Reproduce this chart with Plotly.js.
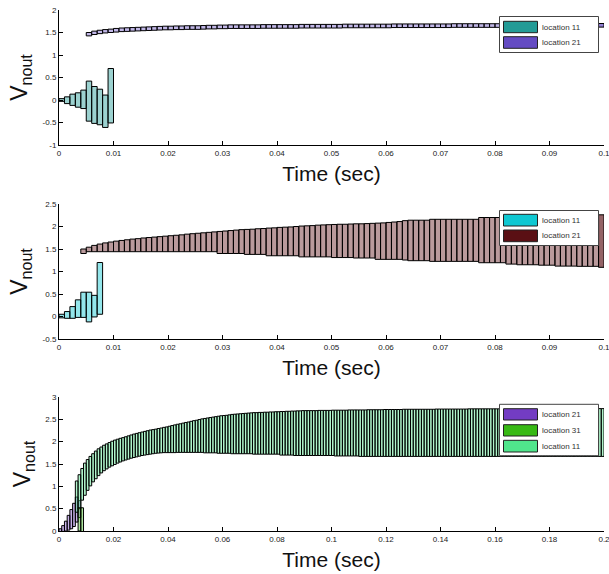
<!DOCTYPE html>
<html><head><meta charset="utf-8">
<script src="https://cdn.plot.ly/plotly-3.0.1.min.js"></script>
<style>html,body{margin:0;padding:0;background:#fff}#chart{width:609px;height:574px}</style>
</head><body><div id="chart"></div>
<script>
// ---------- data (time bins of 0.001 s, each bar spans lo..hi) ----------
const binStep = 0.001;

// Panel 1
const p1Names = ['location 11', 'location 21'];
const p1_11_start = 0.0005;
const p1_11_hi = [0.03,0.07,0.13,0.16,0.22,0.42,0.30,0.24,0.11,0.70];
const p1_11_lo = [-0.03,-0.08,-0.12,-0.16,-0.19,-0.47,-0.52,-0.55,-0.61,-0.51];
const p1_21_start = 0.0055;
const p1_21_hi = [
1.50,1.53,1.55,1.565,1.575,1.59,1.60,1.605,1.61,1.615,
1.62,1.625,1.63,1.635,1.64,1.64,1.645,1.645,1.65,1.65,
1.65,1.655,1.66,1.66,1.665,1.665,1.67,1.67,1.67,1.67,
1.67,1.67,1.675,1.675,1.675,1.675,1.675,1.675,1.675,1.68,
1.68,1.68,1.68,1.68,1.68,1.68,1.68,1.685,1.685,1.685,
1.685,1.685,1.685,1.685,1.685,1.685,1.69,1.69,1.69,1.69,
1.69,1.69,1.69,1.69,1.69,1.69,1.69,1.695,1.695,1.695,
1.695,1.695,1.695,1.695,1.695,1.695,1.695,1.695,1.695,1.695,
1.695,1.70,1.70,1.70,1.70,1.70,1.70,1.70,1.70,1.70,
1.70,1.70,1.70,1.70,1.70];
const p1_21_lo = [
1.425,1.455,1.475,1.49,1.50,1.51,1.52,1.525,1.53,1.535,
1.54,1.545,1.55,1.555,1.56,1.56,1.565,1.565,1.57,1.57,
1.57,1.575,1.58,1.58,1.585,1.585,1.59,1.59,1.59,1.59,
1.59,1.59,1.595,1.595,1.595,1.595,1.595,1.595,1.595,1.60,
1.60,1.60,1.60,1.60,1.60,1.60,1.60,1.605,1.605,1.605,
1.605,1.605,1.605,1.605,1.605,1.605,1.61,1.61,1.61,1.61,
1.61,1.61,1.61,1.61,1.61,1.61,1.61,1.615,1.615,1.615,
1.615,1.615,1.615,1.615,1.615,1.615,1.615,1.615,1.615,1.615,
1.615,1.62,1.62,1.62,1.62,1.62,1.62,1.62,1.62,1.62,
1.62,1.62,1.62,1.62,1.62];

// Panel 2
const p2Names = ['location 11', 'location 21'];
const p2_11_start = 0.0005;
const p2_11_hi = [0.05,0.11,0.22,0.37,0.54,0.54,0.47,1.20];
const p2_11_lo = [-0.03,-0.04,-0.04,-0.02,-0.02,-0.12,-0.01,0.05];
const p2_21_start = 0.0045;
const p2_21_hi = [
1.50,1.54,1.58,1.61,1.635,1.655,1.675,1.69,1.705,1.72,
1.73,1.745,1.755,1.765,1.775,1.785,1.795,1.805,1.815,1.83,
1.84,1.85,1.86,1.87,1.88,1.89,1.90,1.91,1.92,1.93,
1.935,1.94,1.95,1.955,1.965,1.97,1.98,1.985,1.99,2.00,
2.01,2.015,2.02,2.03,2.035,2.04,2.045,2.05,2.05,2.055,
2.06,2.06,2.065,2.07,2.075,2.08,2.09,2.10,2.11,2.13,
2.14,2.14,2.14,2.14,2.16,2.16,2.16,2.16,2.16,2.16,
2.16,2.16,2.16,2.20,2.20,2.20,2.20,2.20,2.20,2.20,
2.22,2.22,2.22,2.22,2.22,2.22,2.22,2.23,2.23,2.23,
2.23,2.24,2.24,2.24,2.24,2.26];
const p2_21_lo = [
1.40,1.44,1.44,1.44,1.44,1.44,1.44,1.44,1.44,1.44,
1.44,1.44,1.44,1.44,1.44,1.44,1.44,1.44,1.44,1.44,
1.44,1.44,1.44,1.44,1.44,1.40,1.40,1.40,1.40,1.40,
1.38,1.38,1.38,1.38,1.35,1.35,1.35,1.35,1.35,1.35,
1.325,1.325,1.325,1.325,1.325,1.325,1.31,1.31,1.31,1.31,
1.30,1.30,1.30,1.30,1.27,1.27,1.27,1.27,1.27,1.255,
1.24,1.24,1.24,1.24,1.225,1.225,1.225,1.225,1.225,1.225,
1.225,1.225,1.225,1.195,1.195,1.195,1.195,1.195,1.165,1.165,
1.15,1.15,1.15,1.15,1.14,1.14,1.14,1.12,1.12,1.12,
1.12,1.115,1.115,1.115,1.115,1.093];

// Panel 3
const p3Names = ['location 21', 'location 31', 'location 11'];
const p3_21_start = 0.0005;
const p3_21_hi = [0.05,0.12,0.22,0.35,0.48,0.62,0.76,0.68];
const p3_21_lo = [-0.01,-0.01,0.0,0.02,0.05,0.10,0.20,0.30];
const p3_31_start = 0.0075;
const p3_31_hi = [0.52,0.52];
const p3_31_lo = [0.0,-0.02];
const p3_11_start = 0.0065;
const p3_11_hi = [
1.12,1.26,1.40,1.52,1.60,1.67,1.73,1.79,1.84,1.88,
1.92,1.95,1.98,2.01,2.035,2.055,2.075,2.09,2.11,2.13,
2.15,2.17,2.185,2.20,2.215,2.23,2.245,2.26,2.27,2.28,
2.295,2.305,2.32,2.33,2.345,2.36,2.375,2.39,2.40,2.415,
2.43,2.44,2.455,2.47,2.48,2.495,2.51,2.52,2.53,2.54,
2.55,2.56,2.57,2.58,2.585,2.59,2.60,2.61,2.615,2.62,
2.625,2.63,2.635,2.64,2.645,2.65,2.65,2.655,2.655,2.66,
2.66,2.665,2.665,2.67,2.67,2.675,2.675,2.68,2.68,2.685,
2.685,2.69,2.69,2.695,2.695,2.695,2.695,2.695,2.695,2.70,
2.70,2.70,2.70,2.70,2.705,2.705,2.705,2.705,2.705,2.705,
2.71,2.71,2.71,2.71,2.71,2.71,2.71,2.715,2.715,2.715,
2.715,2.715,2.715,2.72,2.72,2.72,2.72,2.72,2.72,2.72,
2.725,2.725,2.725,2.725,2.725,2.725,2.725,2.725,2.725,2.725,
2.725,2.725,2.73,2.73,2.73,2.73,2.73,2.73,2.73,2.73,
2.73,2.73,2.73,2.73,2.735,2.735,2.735,2.735,2.735,2.735,
2.735,2.735,2.735,2.735,2.735,2.735,2.735,2.735,2.735,2.735,
2.735,2.735,2.735,2.735,2.735,2.735,2.735,2.735,2.735,2.74,
2.74,2.74,2.74,2.74,2.74,2.74,2.74,2.74,2.74,2.74,
2.74,2.74,2.74,2.74,2.74,2.74,2.74,2.74,2.74,2.74,
2.74,2.74,2.74,2.74];
const p3_11_lo = [
0.42,0.50,0.69,0.80,0.91,1.01,1.10,1.17,1.24,1.30,
1.35,1.39,1.43,1.46,1.49,1.52,1.545,1.57,1.59,1.61,
1.63,1.645,1.66,1.675,1.69,1.70,1.71,1.72,1.73,1.74,
1.745,1.75,1.755,1.755,1.755,1.755,1.755,1.76,1.76,1.76,
1.76,1.76,1.76,1.76,1.76,1.76,1.76,1.75,1.75,1.75,
1.75,1.75,1.74,1.74,1.74,1.74,1.74,1.73,1.73,1.73,
1.73,1.73,1.73,1.73,1.73,1.72,1.72,1.72,1.72,1.72,
1.72,1.72,1.72,1.72,1.72,1.70,1.70,1.70,1.70,1.70,
1.69,1.69,1.69,1.69,1.69,1.69,1.69,1.69,1.69,1.69,
1.69,1.69,1.69,1.69,1.69,1.68,1.68,1.68,1.68,1.68,
1.68,1.68,1.68,1.68,1.67,1.67,1.67,1.67,1.67,1.67,
1.67,1.67,1.67,1.67,1.67,1.67,1.67,1.67,1.67,1.67,
1.67,1.67,1.67,1.67,1.67,1.67,1.67,1.67,1.67,1.67,
1.67,1.67,1.67,1.67,1.67,1.67,1.67,1.67,1.67,1.67,
1.67,1.67,1.67,1.67,1.67,1.67,1.67,1.67,1.67,1.67,
1.67,1.67,1.67,1.67,1.67,1.67,1.67,1.67,1.67,1.67,
1.67,1.67,1.67,1.67,1.67,1.67,1.67,1.67,1.67,1.67,
1.67,1.67,1.67,1.67,1.67,1.67,1.67,1.67,1.67,1.67,
1.67,1.67,1.67,1.67,1.67,1.67,1.67,1.67,1.67,1.67,
1.67,1.67,1.67,1.67];

// tick labels
const xTicks1 = [0,0.01,0.02,0.03,0.04,0.05,0.06,0.07,0.08,0.09,0.1];
const xTickText1 = ['0','0.01','0.02','0.03','0.04','0.05','0.06','0.07','0.08','0.09','0.1'];
const xTicks3 = [0,0.02,0.04,0.06,0.08,0.1,0.12,0.14,0.16,0.18,0.2];
const xTickText3 = ['0','0.02','0.04','0.06','0.08','0.1','0.12','0.14','0.16','0.18','0.2'];
const yTicks1 = [-1,-0.5,0,0.5,1,1.5,2];
const yTickText1 = ['-1','-0.5','0','0.5','1','1.5','2'];
const yTicks2 = [-0.5,0,0.5,1,1.5,2,2.5];
const yTickText2 = ['-0.5','0','0.5','1','1.5','2','2.5'];
const yTicks3 = [0,0.5,1,1.5,2,2.5,3];
const yTickText3 = ['0','0.5','1','1.5','2','2.5','3'];

// ---------- styles ----------
const C = {
  p1_11: [35,155,150], p1_21: [100,75,195],
  p2_11: [15,200,210], p2_21: [90,15,20],
  p3_21: [115,60,195], p3_31: [55,185,20], p3_11: [80,230,140]
};
const rgb = c => `rgb(${c[0]},${c[1]},${c[2]})`;
const rgba = (c,a) => `rgba(${c[0]},${c[1]},${c[2]},${a})`;

function bars(start, lo, hi, col, alpha, xa, ya, lastAlpha) {
  const colors = lo.map((v,i) => rgba(col, (lastAlpha && i === lo.length-1) ? lastAlpha : alpha));
  return {
    type: 'bar', x0: start, dx: binStep, width: binStep,
    y: hi.map((h,i) => h - lo[i]), base: lo,
    xaxis: xa, yaxis: ya,
    marker: {color: colors, line: {color: '#000', width: 1}},
    showlegend: false, hoverinfo: 'skip'
  };
}

const traces = [
  bars(p1_21_start, p1_21_lo, p1_21_hi, C.p1_21, 0.4, 'x', 'y', 0.7),
  bars(p1_11_start, p1_11_lo, p1_11_hi, C.p1_11, 0.45, 'x', 'y'),
  bars(p2_21_start, p2_21_lo, p2_21_hi, C.p2_21, 0.42, 'x2', 'y2', 0.65),
  bars(p2_11_start, p2_11_lo, p2_11_hi, C.p2_11, 0.45, 'x2', 'y2'),
  bars(p3_21_start, p3_21_lo, p3_21_hi, C.p3_21, 0.4, 'x3', 'y3'),
  bars(p3_11_start, p3_11_lo, p3_11_hi, C.p3_11, 0.45, 'x3', 'y3'),
  bars(p3_31_start, p3_31_lo, p3_31_hi, C.p3_31, 0.4, 'x3', 'y3')
];

// ---------- layout ----------
const M = {l: 59, r: 5, t: 10, b: 43};
const W = 609, H = 574, PW = W - M.l - M.r, PH = H - M.t - M.b;
const px2x = px => (px - M.l) / PW;
const px2y = py => (H - M.b - py) / PH;

const axisBase = {
  showline: true, linecolor: '#000', linewidth: 1,
  ticks: 'inside', ticklen: 4, tickcolor: '#000', tickwidth: 1,
  showgrid: false, zeroline: false, mirror: false, fixedrange: true,
  tickfont: {size: 8, color: '#222'}, tickmode: 'array', ticklabeloverflow: 'allow'
};
const xTitle = {text: 'Time (sec)', font: {size: 21, color: '#111'}, standoff: 9};
const yTitle = {text: 'V<sub>nout</sub>', font: {size: 23, color: '#111'}, standoff: 8};

const layout = {
  width: W, height: H, margin: M, barmode: 'overlay', showlegend: false,
  paper_bgcolor: '#fff', plot_bgcolor: '#fff',
  font: {family: 'Liberation Sans, Arial, sans-serif', color: '#222'},
  xaxis:  Object.assign({}, axisBase, {domain: [0,1], anchor: 'y',  range: [0,0.1], tickvals: xTicks1, ticktext: xTickText1, title: xTitle}),
  yaxis:  Object.assign({}, axisBase, {domain: [px2y(145), px2y(10)], anchor: 'x', range: [-1,2], tickvals: yTicks1, ticktext: yTickText1, title: yTitle}),
  xaxis2: Object.assign({}, axisBase, {domain: [0,1], anchor: 'y2', range: [0,0.1], tickvals: xTicks1, ticktext: xTickText1, title: xTitle}),
  yaxis2: Object.assign({}, axisBase, {domain: [px2y(339), px2y(204)], anchor: 'x2', range: [-0.5,2.5], tickvals: yTicks2, ticktext: yTickText2, title: yTitle}),
  xaxis3: Object.assign({}, axisBase, {domain: [0,1], anchor: 'y3', range: [0,0.2], tickvals: xTicks3, ticktext: xTickText3, title: xTitle}),
  yaxis3: Object.assign({}, axisBase, {domain: [0, px2y(397)], anchor: 'x3', range: [0,3], tickvals: yTicks3, ticktext: yTickText3, title: yTitle}),
  shapes: [], annotations: []
};

// custom MATLAB-style legends (wide swatches)
function addLegend(box, names, cols, rows) {
  layout.shapes.push({type: 'rect', xref: 'paper', yref: 'paper',
    x0: px2x(box[0]), x1: px2x(box[2]), y0: px2y(box[3]), y1: px2y(box[1]),
    fillcolor: '#fff', line: {color: '#444', width: 1}});
  names.forEach((n, i) => {
    const r = rows[i];
    layout.shapes.push({type: 'rect', xref: 'paper', yref: 'paper',
      x0: px2x(503.5), x1: px2x(537.5), y0: px2y(r[1]), y1: px2y(r[0]),
      fillcolor: rgb(cols[i]), line: {color: '#222', width: 1}});
    layout.annotations.push({xref: 'paper', yref: 'paper', x: px2x(539.5), y: px2y((r[0]+r[1])/2),
      xanchor: 'left', yanchor: 'middle', showarrow: false, text: n,
      font: {size: 8, color: '#333'}});
  });
}
addLegend([499.5, 16.5, 598.5, 52.5], p1Names, [C.p1_11, C.p1_21], [[21.3,32.7],[36.7,48.3]]);
addLegend([499.5, 210.5, 598.5, 245.5], p2Names, [C.p2_11, C.p2_21], [[214.3,226],[230,241.7]]);
addLegend([499.5, 404.3, 598.5, 455.7], p3Names, [C.p3_21, C.p3_31, C.p3_11], [[408.7,420],[424.7,436],[440.3,452]]);

Plotly.newPlot('chart', traces, layout, {staticPlot: true, displayModeBar: false});
</script>
</body></html>
